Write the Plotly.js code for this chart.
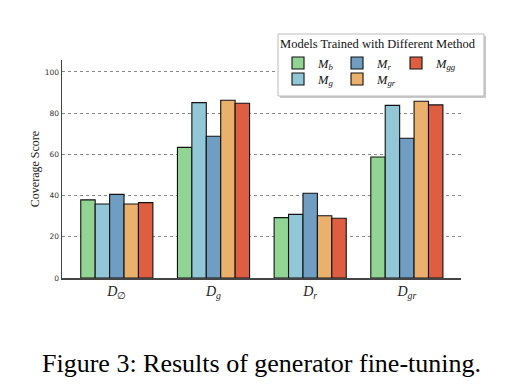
<!DOCTYPE html>
<html>
<head>
<meta charset="utf-8">
<script src="https://cdn.plot.ly/plotly-3.0.1.min.js"></script>
<style>html,body{margin:0;padding:0;background:#fff;}#chart{width:521px;height:387px;}</style>
</head>
<body>
<div id="chart"></div>
<script>
// Data
const categories = ["D_empty", "D_g", "D_r", "D_gr"];
const categoryLabels = ["<i>D</i><sub>∅</sub>", "<i>D</i><sub><i>g</i></sub>", "<i>D</i><sub><i>r</i></sub>", "<i>D</i><sub><i>gr</i></sub>"];
const seriesNames = ["<i>M</i><sub><i>b</i></sub>", "<i>M</i><sub><i>g</i></sub>", "<i>M</i><sub><i>r</i></sub>", "<i>M</i><sub><i>gr</i></sub>", "<i>M</i><sub><i>gg</i></sub>"];
const M_b  = [37.9, 63.4, 29.3, 58.7];
const M_g  = [35.9, 85.1, 30.9, 83.8];
const M_r  = [40.6, 68.8, 41.1, 67.8];
const M_gr = [35.9, 86.3, 30.2, 85.8];
const M_gg = [36.6, 84.8, 29.0, 84.0];
const seriesValues = [M_b, M_g, M_r, M_gr, M_gg];
const colors = ["#92d493", "#92c7d7", "#6f9ec2", "#ebb06c", "#dd5e40"];
// legend placement: first row (with title) vs second row
const legendGroups = ["legend", "legend2", "legend", "legend2", "legend"];
const legendRanks = [1, 1, 2, 2, 3];

const xIdx = categories.map((_, i) => i);
const traces = seriesValues.map((vals, k) => ({
  type: "bar",
  name: seriesNames[k],
  x: xIdx,
  y: vals,
  marker: {color: colors[k], line: {color: "#111", width: 1.1}},
  legend: legendGroups[k],
  legendrank: legendRanks[k]
}));

const legX = 0.5464;
const legendFont = {family: "Liberation Serif, serif", size: 12.5, color: "#111"};
const layout = {
  width: 521, height: 387,
  margin: {l: 62, r: 60, t: 60, b: 109},
  paper_bgcolor: "#fff", plot_bgcolor: "#fff",
  barmode: "group", bargap: 0.254, bargroupgap: 0,
  showlegend: true,
  legend: {
    title: {text: "Models Trained with Different Method", font: {family: "Liberation Serif, serif", size: 12.5, color: "#111"}, side: "top"},
    orientation: "h",
    x: 0.5414, xanchor: "left", y: 1.128, yanchor: "top",
    bgcolor: "rgba(0,0,0,0)", borderwidth: 0,
    font: legendFont, entrywidth: 14, itemwidth: 30
  },
  legend2: {
    orientation: "h",
    x: 0.5414, xanchor: "left", y: 0.98, yanchor: "top",
    bgcolor: "rgba(0,0,0,0)", borderwidth: 0,
    font: legendFont, entrywidth: 14, itemwidth: 30
  },
  shapes: [
    {type: "rect", xref: "paper", yref: "paper", x0: 0.5464, x1: 1.0626, y0: 0.8257, y1: 1.1101,
     fillcolor: "#c8c8c8", line: {width: 0}, layer: "above"},
    {type: "rect", xref: "paper", yref: "paper", x0: 0.5414, x1: 1.0576, y0: 0.8349, y1: 1.1193,
     fillcolor: "#ffffff", line: {color: "#bbbbbb", width: 1}, layer: "above"}
  ],
  xaxis: {
    range: [-0.567, 3.56],
    tickvals: xIdx, ticktext: categoryLabels,
    tickfont: {family: "Liberation Serif, serif", size: 14, color: "#222"},
    showline: true, linecolor: "#444", linewidth: 1.5,
    showgrid: false, zeroline: false, ticks: "", fixedrange: true
  },
  yaxis: {
    range: [0, 105.8],
    tickvals: [0, 20, 40, 60, 80, 100],
    tickfont: {family: "DejaVu Sans, sans-serif", size: 7.5, color: "#333"},
    ticks: "",
    showline: true, linecolor: "#444", linewidth: 1.5,
    showgrid: true, gridcolor: "#888", griddash: "dot", gridwidth: 1,
    zeroline: false,
    title: {text: "Coverage Score", font: {family: "Liberation Serif, serif", size: 12, color: "#222"}, standoff: 2}
  },
  annotations: [{
    xref: "paper", yref: "paper", x: 0.5, y: -0.39,
    xanchor: "center", yanchor: "middle", showarrow: false,
    text: "Figure 3: Results of generator fine-tuning.",
    font: {family: "Liberation Serif, serif", size: 26, color: "#000"}
  }]
};

Plotly.newPlot("chart", traces, layout, {displayModeBar: false, staticPlot: true});
</script>
</body>
</html>
